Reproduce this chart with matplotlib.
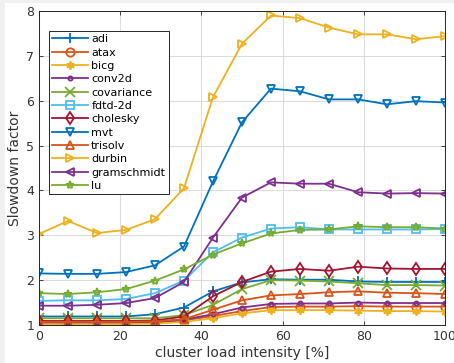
import matplotlib
matplotlib.use("Agg")
import matplotlib.pyplot as plt
import numpy as np
from matplotlib.patches import Rectangle

x = [0, 7.14, 14.29, 21.43, 28.57, 35.71, 42.86, 50, 57.14, 64.29, 71.43, 78.57, 85.71, 92.86, 100]

adi = [1.19, 1.19, 1.19, 1.19, 1.24, 1.39, 1.75, 1.95, 2.02, 2.01, 2.01, 1.97, 1.96, 1.96, 1.96]
atax = [1.05, 1.05, 1.05, 1.05, 1.06, 1.10, 1.20, 1.31, 1.40, 1.41, 1.41, 1.42, 1.41, 1.41, 1.41]
bicg = [1.02, 1.02, 1.02, 1.02, 1.03, 1.07, 1.15, 1.26, 1.33, 1.33, 1.33, 1.32, 1.31, 1.31, 1.30]
conv2d = [1.06, 1.06, 1.06, 1.06, 1.07, 1.12, 1.24, 1.39, 1.47, 1.48, 1.48, 1.50, 1.49, 1.49, 1.49]
covariance = [1.15, 1.15, 1.15, 1.15, 1.15, 1.22, 1.45, 1.80, 2.00, 1.99, 1.97, 1.93, 1.89, 1.89, 1.88]
fdtd2d = [1.54, 1.55, 1.55, 1.58, 1.71, 1.99, 2.62, 2.95, 3.15, 3.18, 3.13, 3.13, 3.13, 3.13, 3.14]
cholesky = [1.09, 1.09, 1.09, 1.09, 1.10, 1.19, 1.64, 1.96, 2.19, 2.25, 2.21, 2.30, 2.26, 2.25, 2.25]
mvt = [2.15, 2.14, 2.14, 2.18, 2.33, 2.75, 4.20, 5.52, 6.27, 6.21, 6.03, 6.03, 5.92, 5.99, 5.96]
trisolv = [1.07, 1.07, 1.07, 1.07, 1.08, 1.13, 1.34, 1.55, 1.66, 1.69, 1.73, 1.75, 1.72, 1.71, 1.69]
durbin = [3.03, 3.32, 3.05, 3.12, 3.36, 4.05, 6.08, 7.27, 7.90, 7.84, 7.63, 7.48, 7.48, 7.37, 7.44]
gramschmidt = [1.43, 1.43, 1.45, 1.49, 1.60, 1.96, 2.95, 3.84, 4.18, 4.15, 4.15, 3.96, 3.93, 3.94, 3.93]
lu = [1.71, 1.69, 1.73, 1.80, 1.99, 2.24, 2.57, 2.82, 3.04, 3.12, 3.13, 3.20, 3.18, 3.18, 3.15]

names = ["adi", "atax", "bicg", "conv2d", "covariance", "fdtd-2d", "cholesky",
         "mvt", "trisolv", "durbin", "gramschmidt", "lu"]
series = [adi, atax, bicg, conv2d, covariance, fdtd2d, cholesky, mvt, trisolv,
          durbin, gramschmidt, lu]
colors = ["#0072BD", "#D95319", "#EDB120", "#7E2F8E", "#77AC30", "#4DBEEE",
          "#A2142F", "#0072BD", "#D95319", "#EDB120", "#7E2F8E", "#77AC30"]
markers = ["+", "o", (6, 2, 0), ".", "x", "s", "d", "v", "^", ">", "<", "*"]

plt.rcParams['font.family'] = ['DejaVu Sans']
fig = plt.figure(figsize=(4.54, 3.63), dpi=100)
fig.patch.set_facecolor("#f0f0f0")
fig.patches.append(Rectangle((5 / 454, 0), 1, 1 - 3 / 363, transform=fig.transFigure,
                             facecolor="white", edgecolor="none", zorder=-10))
ax = fig.add_axes([39 / 454, 1 - 325 / 363, 406 / 454, 314 / 363])

for name, y, c, m in zip(names, series, colors, markers):
    ms = 6
    if m in ("+", "x"):
        ms = 7
    ax.plot(x, y, color=c, marker=m, markersize=ms, markerfacecolor="none",
            markeredgecolor=c, markeredgewidth=1.3, linewidth=1.3, label=name)

ax.set_xlim(0, 100)
ax.set_ylim(1, 8)
ax.set_xticks([0, 20, 40, 60, 80, 100])
ax.set_yticks([1, 2, 3, 4, 5, 6, 7, 8])
ax.grid(True, color="#dcdcdc", linewidth=0.8)
ax.set_axisbelow(True)
ax.tick_params(direction="in", top=True, right=True, length=3, width=0.6,
               colors="#262626", labelsize=9, labelcolor="#333333")
for s in ax.spines.values():
    s.set_color("#262626")
    s.set_linewidth(0.7)
ax.set_xlabel("cluster load intensity [%]", fontsize=10, color="#333333", labelpad=2)
ax.set_ylabel("Slowdown factor", fontsize=10, color="#333333", labelpad=3)

leg = ax.legend(loc="upper left", bbox_to_anchor=(10 / 406, 1 - 20 / 314),
                fontsize=8, handlelength=3.2, handletextpad=0.3, labelspacing=0.3,
                borderpad=0.3, fancybox=False, framealpha=1, edgecolor="#262626",
                borderaxespad=0)
leg.get_frame().set_linewidth(0.7)

fig.savefig("out.png", dpi=100, facecolor=fig.get_facecolor())
